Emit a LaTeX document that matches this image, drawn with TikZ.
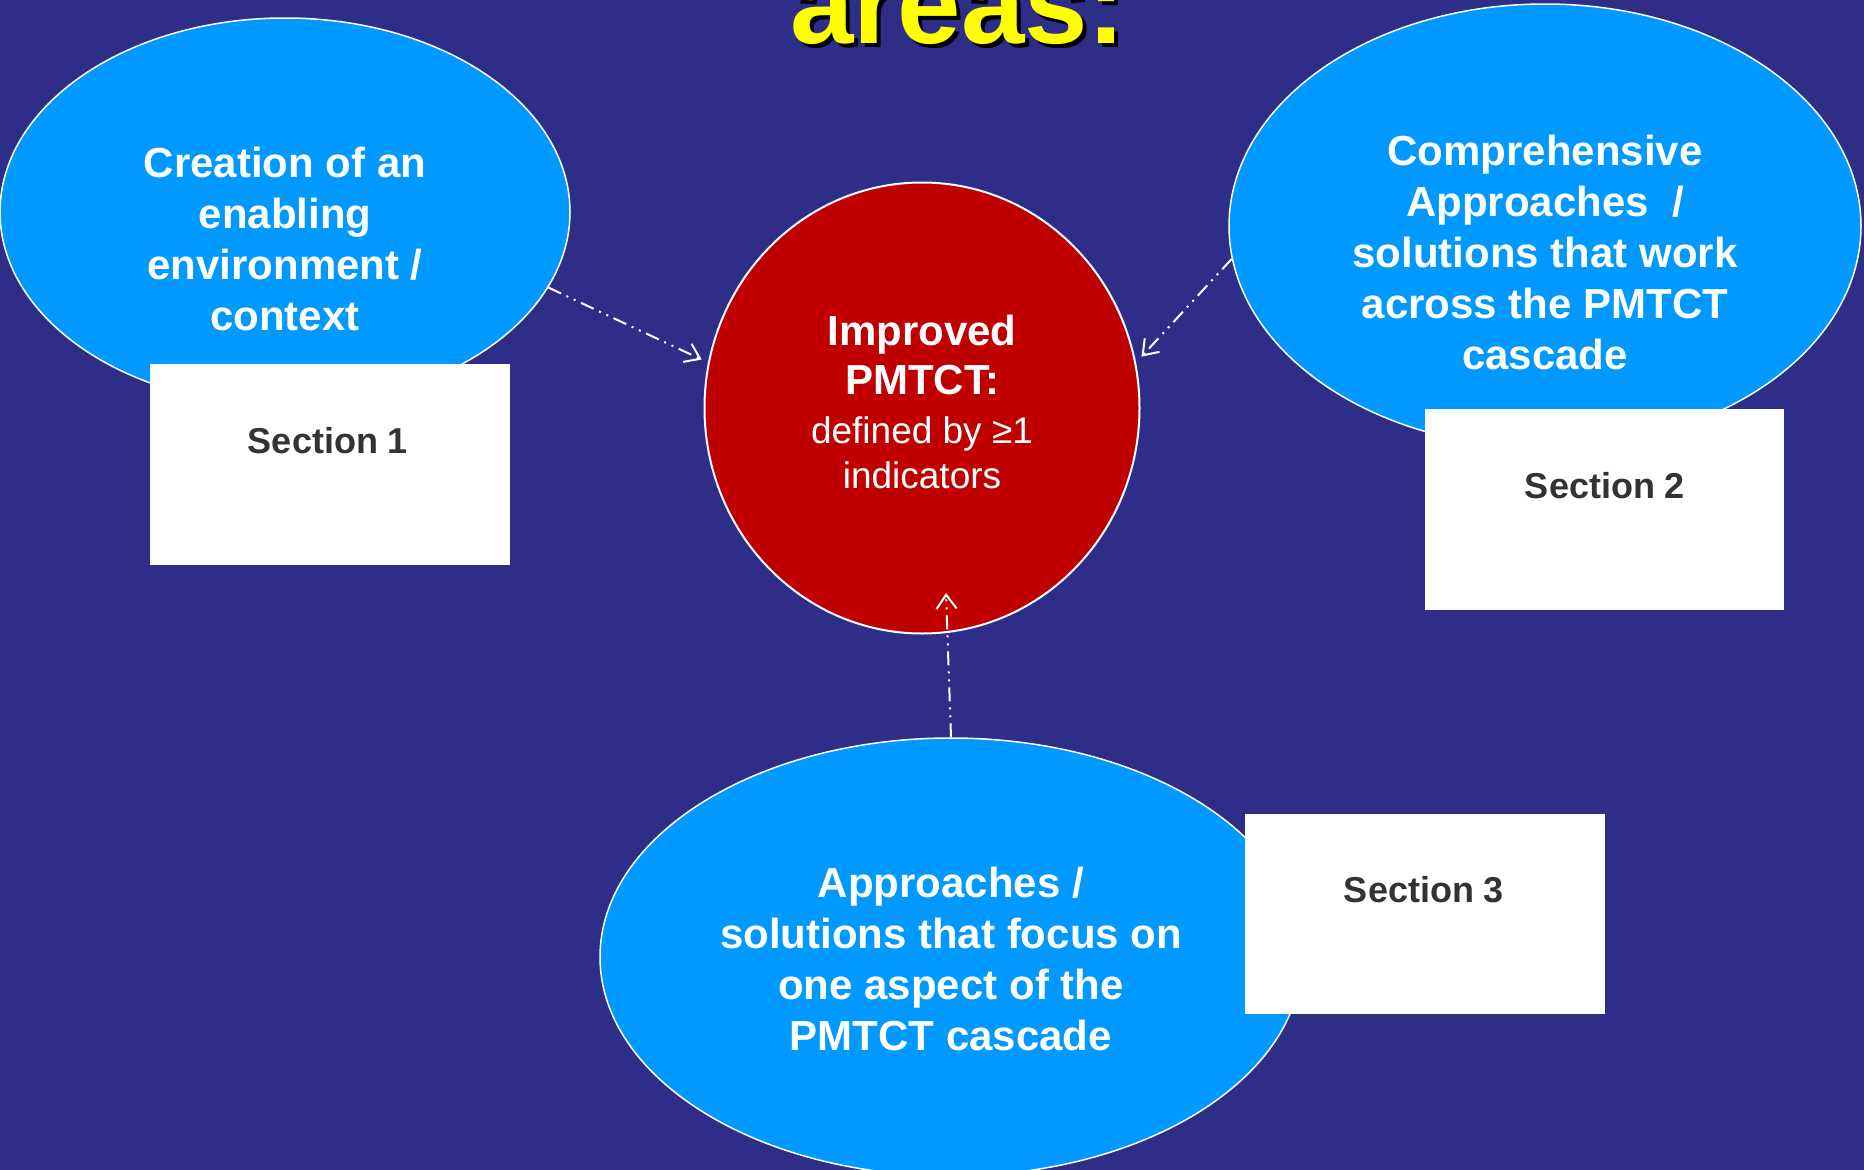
\documentclass[tikz,border=0pt]{standalone}
\usepackage{fontspec}
\setmainfont{Liberation Sans}
\usetikzlibrary{arrows.meta,shapes.geometric}
\definecolor{bg}{RGB}{46,45,135}
\definecolor{bub}{RGB}{0,153,255}
\definecolor{corered}{RGB}{192,0,0}
\definecolor{sectxt}{RGB}{51,51,51}
\definecolor{ttlyellow}{RGB}{255,255,0}
\tikzset{
  bubble/.style={ellipse, draw=white, line width=1.5pt, fill=bub, inner sep=0pt},
  corebub/.style={ellipse, draw=white, line width=2pt, fill=corered, inner sep=0pt},
  secbox/.style={rectangle, fill=white, inner sep=0pt},
  btxt/.style={text=white, font=\fontsize{42}{51}\selectfont\bfseries, align=center, inner sep=0pt},
  stxt/.style={text=sectxt, font=\fontsize{36}{43}\selectfont\bfseries, inner sep=0pt},
  ttl/.style={font=\fontsize{114}{130}\selectfont\bfseries, inner sep=0pt, anchor=base},
  flow/.style={draw=white, line width=2pt,
    dash pattern=on 14pt off 6pt on 2pt off 6pt on 2pt off 6pt,
    -{Straight Barb[length=14pt,width=20pt,line width=2pt]}}
}
\begin{document}
\begin{tikzpicture}[x=1pt,y=-1pt]
\useasboundingbox (0,0) rectangle (1864,1170);
\clip (0,0) rectangle (1864,1170);
\fill[bg] (0,0) rectangle (1864,1170);
% title
\node[ttl, text=black] (ttlsh) at (962,47) {areas:};
\node[ttl, text=ttlyellow] (ttlmain) at (958,43) {areas:};
% bubbles
\node[bubble, minimum width=570pt, minimum height=388pt] (L) at (285,212) {};
\node[bubble, minimum width=632pt, minimum height=444pt] (R) at (1545,226) {};
\node[bubble, minimum width=702pt, minimum height=438pt] (B) at (951,957) {};
\node[corebub, minimum width=435pt, minimum height=451pt] (C) at (922,408) {};
% bubble texts
\node[btxt] (Lt) at (285,239) {Creation of an\\enabling\\environment /\\context};
\node[btxt] (Rt) at (1545,252) {Comprehensive\\Approaches\ \ /\\solutions that work\\across the PMTCT\\cascade};
\node[btxt] (Bt) at (951,959) {Approaches /\\solutions that focus on\\one aspect of the\\PMTCT cascade};
\node[btxt, font=\fontsize{42}{49}\selectfont] (Ct) at (922,402)
  {\textbf{Improved}\\\textbf{PMTCT:}\\{\fontsize{37}{45}\selectfont defined by ≥1}\\[-4pt]{\fontsize{37}{45}\selectfont indicators}};
% section boxes
\node[secbox, minimum width=360pt, minimum height=201pt] (S1) at (330,464.5) {};
\node[secbox, minimum width=359pt, minimum height=201pt] (S2) at (1604.5,509.5) {};
\node[secbox, minimum width=360pt, minimum height=200pt] (S3) at (1425,914) {};
\node[stxt] (S1t) at (328,441) {Section 1};
\node[stxt] (S2t) at (1605,486) {Section 2};
\node[stxt] (S3t) at (1424,890) {Section 3};
% connectors
\coordinate (c3) at (946,593);
\draw[flow, shorten >=7pt] (L.-16) -- (C.168);
\draw[flow, shorten >=8pt] (R.186) -- (C.12);
\draw[flow] (B.north) -- (c3);
\end{tikzpicture}
\end{document}
